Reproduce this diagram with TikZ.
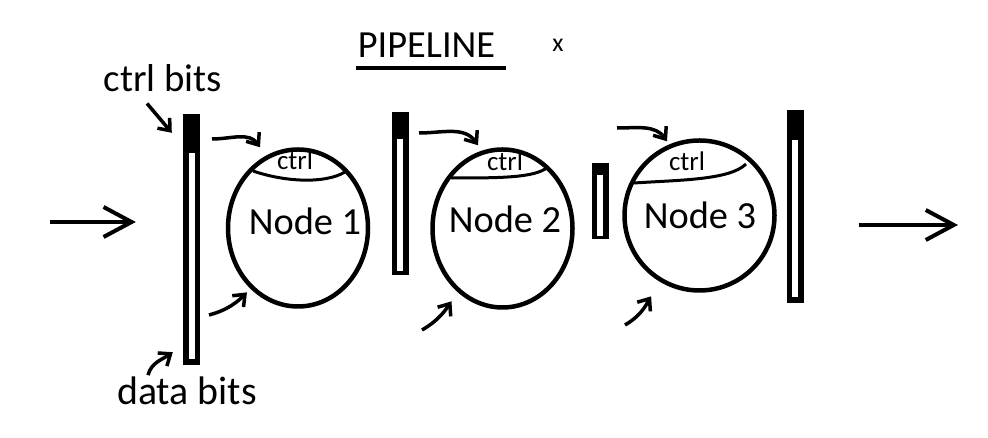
\documentclass[tikz,border=0pt]{standalone}
\usepackage{fontspec}
\setmainfont{Carlito}
\usepackage{tikz}
\usetikzlibrary{positioning}
\usetikzlibrary{shapes,arrows.meta}
\tikzset{%
  stage/.style    = {draw, ellipse, line width=4.5bp, inner sep=0pt}, % Node
  reg/.style      = {rectangle, fill=black, minimum width=17bp, inner sep=0pt}, % Register
  slot/.style     = {rectangle, fill=white, minimum width=6bp, inner sep=0pt}, % data part
  txt/.style      = {inner sep=0pt, anchor=base},
  input/.style    = {coordinate}, % Input
  output/.style   = {coordinate}, % Output
  wire/.style     = {line width=4bp, -{Straight Barb[length=28bp, width=30bp]}},
  feed/.style     = {line width=3.5bp, -{Straight Barb[length=10bp, width=16bp]}},
  ctrlline/.style = {line width=3bp}
}

\begin{document}
\begin{tikzpicture}[x=1bp, y=1bp]
  \useasboundingbox (0,0) rectangle (988,438);

  \draw node at (426.5,380) [txt, font=\fontsize{38.5}{38}\selectfont] (title) {PIPELINE};
  \draw[line width=4bp] ([xshift=-2bp, yshift=-10bp]title.base west) -- ([xshift=11bp, yshift=-10bp]title.base east);
  \draw node at (558,386) [txt, font=\fontsize{26}{26}\selectfont] (mark) {x};

  \draw node at (163,346) [txt, font=\fontsize{39}{39}\selectfont] (ctrlbits) {ctrl bits};
  \draw node at (187,33) [txt, font=\fontsize{40}{40}\selectfont] (databits) {data bits};

  % registers
  \draw node at (191.5,198.5) [reg, minimum height=251bp] (reg1) {};
  \draw node [slot, minimum height=206bp, above=6bp of reg1.south] (slot1) {};
  \draw node at (400,244.5) [reg, minimum height=163bp] (reg2) {};
  \draw node [slot, minimum height=132bp, above=4bp of reg2.south] (slot2) {};
  \draw node at (600,237) [reg, minimum height=76bp] (reg3) {};
  \draw node [slot, minimum height=61bp, above=3bp of reg3.south] (slot3) {};
  \draw node at (795,231.5) [reg, minimum height=193bp] (reg4) {};
  \draw node [slot, minimum height=157bp, above=6bp of reg4.south] (slot4) {};

  % stages
  \draw node at (298,210) [stage, minimum width=140bp, minimum height=157bp] (n1) {};
  \draw node at (502.5,209.5) [stage, minimum width=140bp, minimum height=158bp] (n2) {};
  \draw node at (699.5,222.5) [stage, minimum width=150bp, minimum height=150bp] (n3) {};

  \draw node at (305,203) [txt, font=\fontsize{38.5}{38}\selectfont] (lbl1) {Node 1};
  \draw node at (505,205) [txt, font=\fontsize{38.5}{38}\selectfont] (lbl2) {Node 2};
  \draw node at (700,209) [txt, font=\fontsize{38.5}{38}\selectfont] (lbl3) {Node 3};

  \draw node at (295,268) [txt, font=\fontsize{27}{27}\selectfont] (ctrl1) {ctrl};
  \draw node at (505,267) [txt, font=\fontsize{27}{27}\selectfont] (ctrl2) {ctrl};
  \draw node at (687,267) [txt, font=\fontsize{27}{27}\selectfont] (ctrl3) {ctrl};
  \draw[ctrlline] (253,267) .. controls (285,256) and (325,254) .. (345,266);
  \draw[ctrlline] (451,260) .. controls (500,260) and (535,260) .. (548,271);
  \draw[ctrlline] (634,255) .. controls (680,258) and (730,258) .. (746,274);

  \draw node at (50,216) [input] (src) {};
  \draw node at (958,213) [output] (sink) {};
  \draw[wire] (src) -- ([xshift=-47bp]src -| reg1.west);
  \draw[wire] ([xshift=55bp]sink -| reg4.east) -- (sink);

  \draw[feed] ([shift={(-16,-11)}]ctrlbits.south) -- ([shift={(-11,-19)}]reg1.north west);
  \draw[feed] ([shift={(-39,2)}]databits.north) to[out=75, in=215] ([shift={(-10,13)}]reg1.south west);

  \draw node at (212,299) [input] (c1) {};
  \draw node at (419,305) [input] (c2) {};
  \draw node at (617,310) [input] (c3) {};
  \draw node at (209,123) [input] (d1) {};
  \draw node at (422,108) [input] (d2) {};
  \draw node at (625,113) [input] (d3) {};
  \draw[feed] (c1) to[out=0, in=125] ([xshift=-38bp]n1.north);
  \draw[feed] (c2) to[out=0, in=125] ([xshift=-24.5bp, yshift=2bp]n2.north);
  \draw[feed] (c3) to[out=0, in=125] ([xshift=-32.5bp, yshift=-3bp]n3.north);
  \draw[feed, shorten >=5bp] (d1) to[out=15, in=225] (n1.232);
  \draw[feed, shorten >=11bp] (d2) to[out=30, in=235] (n2.235);
  \draw[feed, shorten >=17bp] (d3) to[out=30, in=235] (n3.240);

\end{tikzpicture}
\end{document}
